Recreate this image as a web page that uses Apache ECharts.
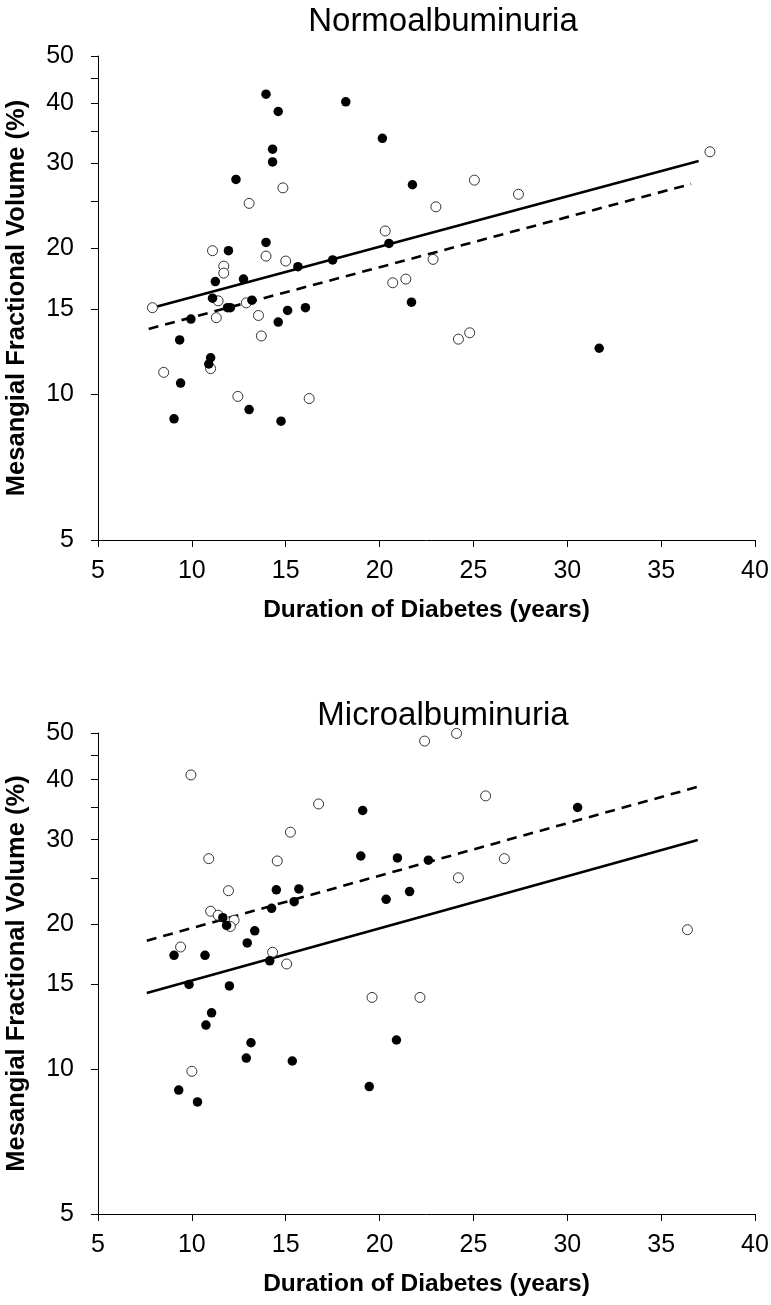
<!DOCTYPE html>
<html>
<head>
<meta charset="utf-8">
<script src="https://cdn.jsdelivr.net/npm/echarts@6/dist/echarts.min.js"></script>
<style>html,body{margin:0;padding:0;background:#fff;}#c{width:771px;height:1305px;}</style>
</head>
<body>
<div id="c"></div>
<script>
// ---- Data ----
const panelTitles = ['Normoalbuminuria', 'Microalbuminuria'];
const xAxisTitle = 'Duration of Diabetes (years)';
const yAxisTitle = 'Mesangial Fractional Volume (%)';

const xTickValues = [5, 10, 15, 20, 25, 30, 35, 40];
const yTickValues = [5, 10, 15, 20, 25, 30, 35, 40, 45, 50];
const yLabelValues = [5, 10, 15, 20, 30, 40, 50];

// Normoalbuminuria
const normFilledX = [13.95,14.6,18.2,14.3,14.3,20.15,12.35,21.75,13.95,11.95,20.5,17.5,15.65,11.25,12.75,11.1,13.2,11.9,12.05,15.1,16.05,21.7,9.95,14.6,9.35,11.0,10.9,9.4,13.05,9.05,14.75,31.7];
const normFilledY = [41.7,38.4,40.2,32.1,30.2,33.8,27.8,27.1,20.6,19.8,20.5,18.95,18.35,17.1,17.3,15.8,15.65,15.1,15.1,14.9,15.1,15.5,14.3,14.1,12.95,11.9,11.55,10.55,9.3,8.9,8.8,12.45];
const normOpenX = [37.6,25.05,27.4,23.0,20.3,22.85,20.7,21.4,24.8,24.2,14.85,13.05,11.1,13.95,15.0,11.7,11.7,11.4,12.9,7.9,11.3,13.55,13.7,8.5,11.0,12.45,16.25];
const normOpenY = [31.7,27.7,25.9,24.4,21.75,19.0,17.0,17.3,13.4,13.0,26.7,24.8,19.8,19.3,18.85,18.4,17.8,15.6,15.45,15.1,14.4,14.55,13.2,11.1,11.3,9.9,9.8];
const normSolidX = [7.9, 37.0];
const normSolidY = [15.1, 30.35];
const normDashX = [7.7, 36.6];
const normDashY = [13.65, 27.2];

// Microalbuminuria
const microFilledX = [30.55,19.1,19.0,20.95,22.6,14.5,15.7,20.35,21.6,15.45,14.25,11.65,11.85,13.35,12.95,9.05,10.7,14.15,9.85,12.0,11.05,10.75,13.15,12.9,15.35,20.9,9.3,10.3,19.45];
const microFilledY = [35.0,34.5,27.75,27.5,27.2,23.6,23.7,22.55,23.4,22.3,21.6,20.65,19.9,19.4,18.3,17.25,17.25,16.8,15.0,14.9,13.1,12.35,11.35,10.55,10.4,11.5,9.05,8.55,9.2];
const microOpenX = [22.4,24.1,25.65,16.75,15.25,10.9,14.55,26.65,24.2,11.95,11.0,11.4,12.25,12.05,9.4,14.3,15.05,19.6,22.15,10.0,36.4,9.95];
const microOpenY = [48.1,49.9,37.0,35.6,31.1,27.4,27.1,27.4,25.0,23.5,21.3,20.9,20.4,19.8,17.95,17.5,16.55,14.1,14.1,9.9,19.5,40.9];
const microSolidX = [7.6, 36.95];
const microSolidY = [14.4, 29.95];
const microDashX = [7.6, 37.0];
const microDashY = [18.5, 38.7];

// ---- Build chart ----
const FONT = '"Liberation Sans", Arial, sans-serif';
const zip = (xs, ys) => xs.map((x, i) => [x, ys[i]]);

const grids = [
  { left: 98, width: 657, top: 56, height: 484, containLabel: false, outerBoundsMode: 'none' },
  { left: 98, width: 657, top: 733, height: 481, containLabel: false, outerBoundsMode: 'none' }
];

function xAxis(gi) {
  return {
    gridIndex: gi, type: 'value', min: xTickValues[0], max: xTickValues[xTickValues.length - 1], interval: 5,
    name: xAxisTitle, nameLocation: 'middle', nameGap: 58,
    nameTextStyle: { fontFamily: FONT, fontSize: 24.5, fontWeight: 'bold', color: '#000' },
    axisLine: { show: true, onZero: false, lineStyle: { color: '#000', width: 1 } },
    axisTick: { show: true, length: 7, lineStyle: { color: '#000', width: 1 } },
    axisLabel: { fontFamily: FONT, fontSize: 25, color: '#000', margin: 19 },
    splitLine: { show: false }
  };
}
function yAxis(gi) {
  return {
    gridIndex: gi, type: 'log', logBase: 10, min: 5, max: 50,
    name: yAxisTitle, nameLocation: 'middle', nameGap: 68,
    nameTextStyle: { fontFamily: FONT, fontSize: 25.5, fontWeight: 'bold', color: '#000' },
    axisLine: { show: true, onZero: false, lineStyle: { color: '#000', width: 1 } },
    axisTick: { show: true, length: 7, customValues: yTickValues, lineStyle: { color: '#000', width: 1 } },
    axisLabel: { fontFamily: FONT, fontSize: 25, color: '#000', margin: 24, customValues: yLabelValues, showMinLabel: true, showMaxLabel: true },
    splitLine: { show: false },
    minorTick: { show: false }
  };
}

function lineSeries(gi, xs, ys, dashed) {
  return {
    type: 'line', xAxisIndex: gi, yAxisIndex: gi, data: zip(xs, ys),
    symbol: 'none', silent: true, z: 2,
    lineStyle: { color: '#000', width: 2.6, opacity: 1, type: dashed ? [10, 7] : 'solid' }
  };
}
function openSeries(gi, xs, ys) {
  return {
    type: 'scatter', xAxisIndex: gi, yAxisIndex: gi, data: zip(xs, ys),
    symbol: 'circle', symbolSize: 10, z: 3,
    itemStyle: { color: '#fff', borderColor: '#333', borderWidth: 1, opacity: 1 }
  };
}
function filledSeries(gi, xs, ys) {
  return {
    type: 'scatter', xAxisIndex: gi, yAxisIndex: gi, data: zip(xs, ys),
    symbol: 'circle', symbolSize: 9.5, z: 4,
    itemStyle: { color: '#000', borderWidth: 0, opacity: 1 }
  };
}

const option = {
  backgroundColor: '#fff',
  animation: false,
  title: [
    { text: panelTitles[0], left: 438, top: 0, textAlign: 'center',
      textStyle: { fontFamily: FONT, fontSize: 33, fontWeight: 'normal', color: '#000' } },
    { text: panelTitles[1], left: 438, top: 694, textAlign: 'center',
      textStyle: { fontFamily: FONT, fontSize: 33, fontWeight: 'normal', color: '#000' } }
  ],
  grid: grids,
  xAxis: [xAxis(0), xAxis(1)],
  yAxis: [yAxis(0), yAxis(1)],
  series: [
    lineSeries(0, normSolidX, normSolidY, false),
    lineSeries(0, normDashX, normDashY, true),
    openSeries(0, normOpenX, normOpenY),
    filledSeries(0, normFilledX, normFilledY),
    lineSeries(1, microSolidX, microSolidY, false),
    lineSeries(1, microDashX, microDashY, true),
    openSeries(1, microOpenX, microOpenY),
    filledSeries(1, microFilledX, microFilledY)
  ]
};

const chart = echarts.init(document.getElementById('c'), null, { renderer: 'canvas' });
chart.setOption(option);
</script>
</body>
</html>
